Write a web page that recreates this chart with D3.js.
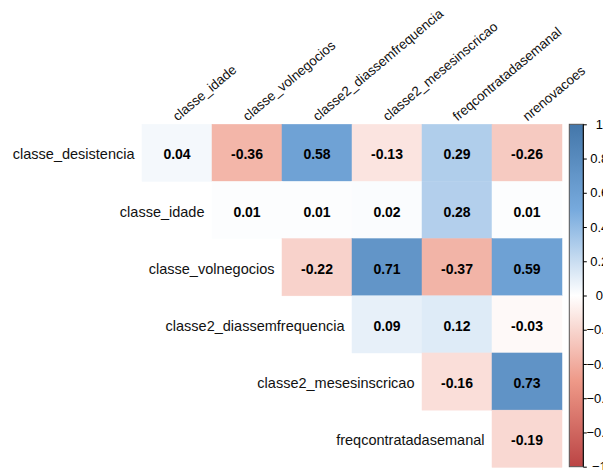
<!DOCTYPE html>
<html>
<head>
<meta charset="utf-8">
<script src="https://cdn.jsdelivr.net/npm/d3@7"></script>
<style>
  html, body { margin: 0; padding: 0; background: #fff; }
  svg { display: block; font-family: "Liberation Sans", Arial, sans-serif; }
</style>
</head>
<body>
<svg id="chart" width="603" height="470"></svg>
<script>
// Variables shown down the left side (rows) and across the top (columns)
const rowVars = ["classe_desistencia", "classe_idade", "classe_volnegocios",
  "classe2_diassemfrequencia", "classe2_mesesinscricao", "freqcontratadasemanal"];
const colVars = ["classe_idade", "classe_volnegocios", "classe2_diassemfrequencia",
  "classe2_mesesinscricao", "freqcontratadasemanal", "nrenovacoes"];

// Upper-triangle correlation coefficients, one array per row (null = empty cell)
const corrDesistencia = [0.04, -0.36, 0.58, -0.13, 0.29, -0.26];
const corrIdade       = [null, 0.01, 0.01, 0.02, 0.28, 0.01];
const corrVolnegocios = [null, null, -0.22, 0.71, -0.37, 0.59];
const corrDiassem     = [null, null, null, 0.09, 0.12, -0.03];
const corrMeses       = [null, null, null, null, -0.16, 0.73];
const corrFreq        = [null, null, null, null, null, -0.19];
const corrRows = [corrDesistencia, corrIdade, corrVolnegocios, corrDiassem, corrMeses, corrFreq];

// Colour legend ticks
const legendTicks = [1, 0.8, 0.6, 0.4, 0.2, 0, -0.2, -0.4, -0.6, -0.8, -1];

const svg = d3.select("#chart");

const x = d3.scaleBand().domain(colVars).range([142, 562]);
const y = d3.scaleBand().domain(rowVars).range([124.3, 467.3]);

const color = d3.scaleLinear()
  .domain([-1, -0.5, 0, 0.5, 1])
  .range(["#BB4444", "#EE9988", "#FFFFFF", "#77AADD", "#4477AA"])
  .interpolate(d3.interpolateRgb);

// Flatten to cells
const cells = [];
corrRows.forEach((vals, i) => {
  vals.forEach((v, j) => {
    if (v !== null) cells.push({ row: rowVars[i], col: colVars[j], value: v });
  });
});

// Coloured tiles
svg.append("g").selectAll("rect").data(cells).join("rect")
  .attr("x", d => x(d.col))
  .attr("y", d => y(d.row))
  .attr("width", x.bandwidth())
  .attr("height", y.bandwidth())
  .attr("fill", d => color(d.value))
  .attr("stroke", d => color(d.value))
  .attr("stroke-width", 0.5);

const baseShift = 6.5; // baseline offset below the row centre

// Coefficient labels
svg.append("g").selectAll("text").data(cells).join("text")
  .attr("x", d => x(d.col) + x.bandwidth() / 2)
  .attr("y", d => y(d.row) + y.bandwidth() / 2 + baseShift)
  .attr("text-anchor", "middle")
  .attr("font-size", 14)
  .attr("font-weight", "bold")
  .attr("fill", "#000")
  .text(d => d.value.toFixed(2));

// Row labels, right-aligned just before each row's first tile
svg.append("g").selectAll("text").data(rowVars).join("text")
  .attr("x", (d, i) => x(colVars[i]) - 7.5)
  .attr("y", d => y(d) + y.bandwidth() / 2 + baseShift)
  .attr("text-anchor", "end")
  .attr("font-size", 14.5)
  .attr("fill", "#111")
  .text(d => d);

// Column labels, rotated above the grid
svg.append("g").selectAll("text").data(colVars).join("text")
  .attr("transform", d => `translate(${x(d) + x.bandwidth() / 2 + 0.5},121.5) rotate(-40)`)
  .attr("text-anchor", "start")
  .attr("font-size", 13.4)
  .attr("fill", "#111")
  .text(d => d);

// Colour legend
const ly = d3.scaleLinear().domain([-1, 1]).range([466.7, 124.3]);
const lx0 = 569.3, lx1 = 583.3;

const defs = svg.append("defs");
const grad = defs.append("linearGradient")
  .attr("id", "legendGrad")
  .attr("x1", 0).attr("y1", 1).attr("x2", 0).attr("y2", 0);
d3.range(0, 1.0001, 0.05).forEach(t => {
  grad.append("stop")
    .attr("offset", t)
    .attr("stop-color", color(-1 + 2 * t));
});

svg.append("rect")
  .attr("x", lx0)
  .attr("y", ly(1))
  .attr("width", lx1 - lx0)
  .attr("height", ly(-1) - ly(1))
  .attr("fill", "url(#legendGrad)")
  .attr("stroke", "#555")
  .attr("stroke-width", 1);

const axis = d3.axisRight(ly)
  .tickValues(legendTicks)
  .tickSize(3.5)
  .tickPadding(4)
  .tickFormat(d => d3.format("")(+d.toFixed(1)));

const ag = svg.append("g")
  .attr("transform", `translate(${lx1},0)`)
  .call(axis);
ag.select(".domain").attr("stroke", "#000").attr("d", `M0,${ly(1)}V${ly(-1)}`);
ag.selectAll(".tick line").attr("stroke", "#000");
ag.selectAll(".tick text")
  .attr("x", 16)
  .attr("text-anchor", "middle")
  .attr("font-size", 13)
  .attr("font-family", "Liberation Sans, Arial, sans-serif")
  .attr("fill", "#000");
</script>
</body>
</html>
